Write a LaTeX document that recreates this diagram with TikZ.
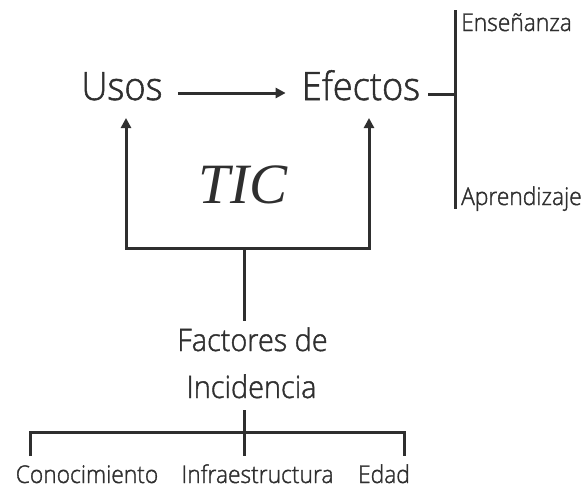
\documentclass[tikz,border=0pt]{standalone}
\usepackage{fontspec}
\IfFontExistsTF{Open Sans Light}{\setmainfont{Open Sans Light}[FakeStretch=0.93,FakeBold=1.4]}{\setmainfont{Open Sans}[FakeStretch=0.93]}
\newfontfamily\ticfont{Liberation Serif}
\usetikzlibrary{arrows.meta}
\definecolor{ink}{HTML}{2F2F2F}
\begin{document}
\begin{tikzpicture}[x=1pt,y=-1pt,
  line/.style={line width=3pt, draw=ink},
  arr/.style={line, -{Triangle[width=10pt,length=10pt]}},
  big/.style={font=\fontsize{39}{44}\selectfont, inner sep=0pt, text=ink},
  mid/.style={font=\fontsize{31}{40}\selectfont, inner sep=0pt, text=ink},
  small/.style={font=\fontsize{24.5}{28}\selectfont, inner sep=0pt, text=ink},
  tics/.style={font=\ticfont\itshape\fontsize{57}{62}\selectfont, inner sep=0pt, text=ink},
]
\useasboundingbox (0,0) rectangle (587,488);
% top row
\node[big, anchor=base] (usos) at (122,100) {Usos};
\node[big, anchor=base] (efectos) at (361,100) {Efectos};
\draw[arr] ([xshift=15pt,yshift=7pt]usos.base east) -- ([xshift=-16pt,yshift=7pt]efectos.base west);
% bar with outcomes
\coordinate (bt) at (455,10);
\coordinate (bb) at (455,209);
\draw[line] (bt) -- (bb);
\draw[line] ([xshift=8pt,yshift=6pt]efectos.base east) coordinate (d0) -- (d0 -| bt);
\node[small, anchor=base west] (ens) at (461,31) {Enseñanza};
\node[small, anchor=base west] (apr) at (461,205) {Aprendizaje};
% TIC
\node[tics, anchor=base] (tic) at (243,203) {TIC};
% feedback arrows
\coordinate (cf) at (244,248);
\coordinate (tipL) at ([yshift=-18pt]usos.base -| 126,0);
\coordinate (tipR) at ([yshift=-18pt]efectos.base -| 369,0);
\draw[arr] (cf) -| (tipL);
\draw[arr] (cf) -| (tipR);
% factores
\node[mid, anchor=base] (fac1) at (252.5,351) {Factores de};
\node[mid, anchor=base] (fac2) at (251.5,398) {Incidencia};
\draw[line, shorten >=6pt] (cf) -- (cf |- fac1.north);
% bottom bracket
\coordinate (hl) at (30,432);
\coordinate (hr) at (404,432);
\coordinate (hm) at (244,456);
\draw[line, shorten <=12pt] (fac2.base -| hm) -- (hm);
\draw[line] ([yshift=-24pt]hl) -- (hl) -- (hr) -- ([yshift=-24pt]hr);
\node[small, anchor=base] (k1) at (87,483) {Conocimiento};
\node[small, anchor=base] (k2) at (257.5,483) {Infraestructura};
\node[small, anchor=base] (k3) at (384,483) {Edad};
\end{tikzpicture}
\end{document}
